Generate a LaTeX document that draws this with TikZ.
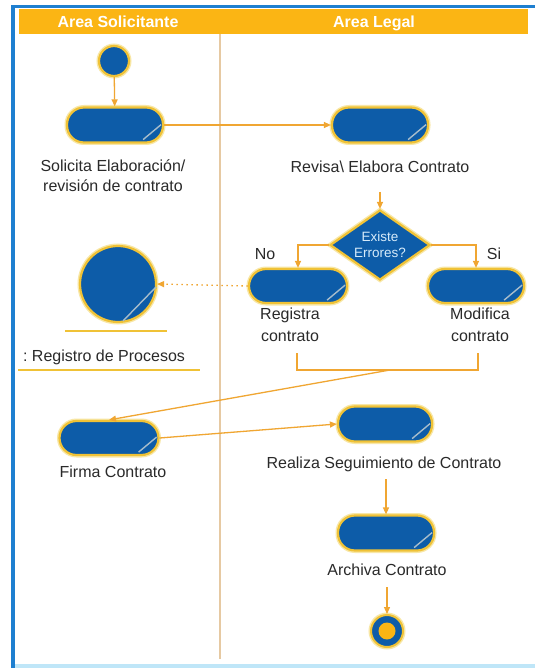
\documentclass[tikz,border=0pt]{standalone}
\usepackage{fontspec}
\setmainfont{Liberation Sans}
\frenchspacing
\usetikzlibrary{arrows.meta,shapes.geometric,calc}
\definecolor{frameblue}{HTML}{1E7FD0}
\definecolor{framelight}{HTML}{BFE6F8}
\definecolor{headorange}{HTML}{FBB514}
\definecolor{laneline}{HTML}{E6C9A2}
\definecolor{actblue}{HTML}{0D5CA8}
\definecolor{actedge}{HTML}{F0C236}
\definecolor{actglow}{HTML}{F8E7A6}
\definecolor{flow}{HTML}{F0A632}
\definecolor{diagline}{HTML}{A6BCCB}
\definecolor{labgrey}{HTML}{2A2A2A}
\definecolor{diatext}{HTML}{D6EBFA}
\tikzset{
  actbox/.style={rectangle, rounded corners=17pt, minimum width=96pt, minimum height=35pt,
    fill=actblue, draw=actedge, line width=2.2pt, inner sep=0pt,
    preaction={draw=actglow, line width=5pt}},
  decbox/.style={diamond, aspect=1.4, minimum width=100pt, minimum height=70pt,
    fill=actblue, draw=actedge, line width=2.2pt, inner sep=0pt,
    preaction={draw=actglow, line width=5pt}, text=diatext, align=center,
    font=\fontsize{13.5}{16}\selectfont},
  startdot/.style={circle, minimum size=30pt, inner sep=0pt, fill=actblue, draw=actedge,
    line width=2.2pt, preaction={draw=actglow, line width=5pt}},
  objcirc/.style={circle, minimum size=76pt, inner sep=0pt, fill=actblue, draw=actedge,
    line width=2.2pt, preaction={draw=actglow, line width=5pt}},
  lab/.style={text=labgrey, align=center, inner sep=0pt, font=\fontsize{16}{20}\selectfont},
  headtxt/.style={text=white, inner sep=0pt, anchor=base, font=\bfseries\fontsize{16}{19}\selectfont},
  flowarr/.style={draw=flow, line width=1.3pt, -{Triangle[length=7pt,width=6pt]}},
  flowline/.style={draw=flow, line width=1.3pt},
  diagmark/.style={draw=diagline, line width=1.4pt},
}
\begin{document}
\begin{tikzpicture}[x=1pt,y=-1pt]
\useasboundingbox (0,0) rectangle (535,668);
\fill[white] (0,0) rectangle (535,668);
% frame
\fill[framelight] (12,664) rectangle (535,668);
\fill[frameblue] (11,5) rectangle (535,8);
\fill[frameblue] (11,5) rectangle (15,668);
% header
\fill[headorange] (19,9) rectangle (528,34);
\node[headtxt] (h1) at (118,27.5) {Area Solicitante};
\node[headtxt] (h2) at (374,27.5) {Area Legal};
% lane divider
\draw[laneline, line width=1.2pt] (220,34) -- (220,659);

% nodes
\node[startdot] (start) at (114,61) {};
\node[actbox] (a1) at (115,125) {};
\node[lab] (l1) at (113,176) {Solicita Elaboración/\\revisión de contrato};
\node[actbox] (a2) at (380,125) {};
\node[lab] (l2) at (380,167) {Revisa\textbackslash{} Elabora Contrato};
\node[decbox] (dia) at (380,245) {Existe\\Errores?};
\node[actbox, minimum height=34pt, minimum width=98pt] (reg) at (298,286) {};
\node[lab, font=\fontsize{16}{22}\selectfont] (lreg) at (290,325) {Registra\\contrato};
\node[actbox, minimum height=34pt, minimum width=96pt] (mod) at (476,286) {};
\node[lab, font=\fontsize{16}{22}\selectfont] (lmod) at (480,325) {Modifica\\contrato};
\node[lab] (no) at (265,254) {No};
\node[lab] (si) at (494,254) {Si};
\node[objcirc] (obj) at (118,284) {};
\node[lab] (lobj) at (104,357) {: Registro de Procesos};
\node[actbox, minimum height=34pt, minimum width=99pt] (firma) at (109,438) {};
\node[lab] (lfirma) at (113,472) {Firma Contrato};
\node[actbox, minimum width=94pt] (seg) at (385,424) {};
\node[lab] (lseg) at (384,464) {Realiza Seguimiento de Contrato};
\node[actbox] (arch) at (386,533) {};
\node[lab] (larch) at (387,570) {Archiva Contrato};
\node[circle, minimum size=32pt, inner sep=0pt, fill=actblue, draw=actedge, line width=2pt,
  preaction={draw=actglow, line width=5pt}] (fin) at (387,631) {};
\node[circle, minimum size=17pt, inner sep=0pt, fill=headorange] (fincore) at (fin.center) {};

% diagonal marks
\foreach \n in {a1,a2,reg,mod,firma,seg,arch}{
  \draw[diagmark] ($(\n.south east)+(-21,-4)$) -- ($(\n.south east)+(-3,-19)$);
}
\draw[diagmark] ($(obj.center)+(5,37)$) -- ($(obj.center)+(38,3)$);

% object underline and label underline
\coordinate (ob1) at (65,331);
\coordinate (ob2) at (167,331);
\draw[actedge, line width=1.3pt] (ob1) -- (ob2);
\coordinate (ul1) at (18,370);
\coordinate (ul2) at (200,370);
\draw[actedge, line width=1.3pt] (ul1) -- (ul2);

% connectors
\draw[flowarr] (start) -- (a1);
\draw[flowarr] (a1) -- (a2);
\coordinate (c2) at (380,192);
\draw[flowarr] (c2) -- (dia.north);
\draw[flowarr] (dia.west) -| (reg.north);
\draw[flowarr] (dia.east) -| (mod.north);
\draw[draw=flow, line width=1.3pt, dash pattern=on 1.5pt off 3.5pt, -{Triangle[length=7pt,width=6pt]}] (reg.west) -- (obj.east);
% join bracket
\coordinate (j1) at (297,353);
\coordinate (j2) at (297,370);
\coordinate (j3) at (478,370);
\coordinate (j4) at (478,353);
\draw[flowline] (j1) -- (j2) -- (j3) -- (j4);
\coordinate (jout) at (390,370);
\draw[flowarr] (jout) -- (firma.north);
\draw[flowarr] (firma.east) -- (seg.west);
\coordinate (c3) at (386,479);
\draw[flowarr] (c3) -- (arch.north);
\coordinate (c4) at (387,587);
\draw[flowarr] (c4) -- (fin.north);
\end{tikzpicture}
\end{document}
